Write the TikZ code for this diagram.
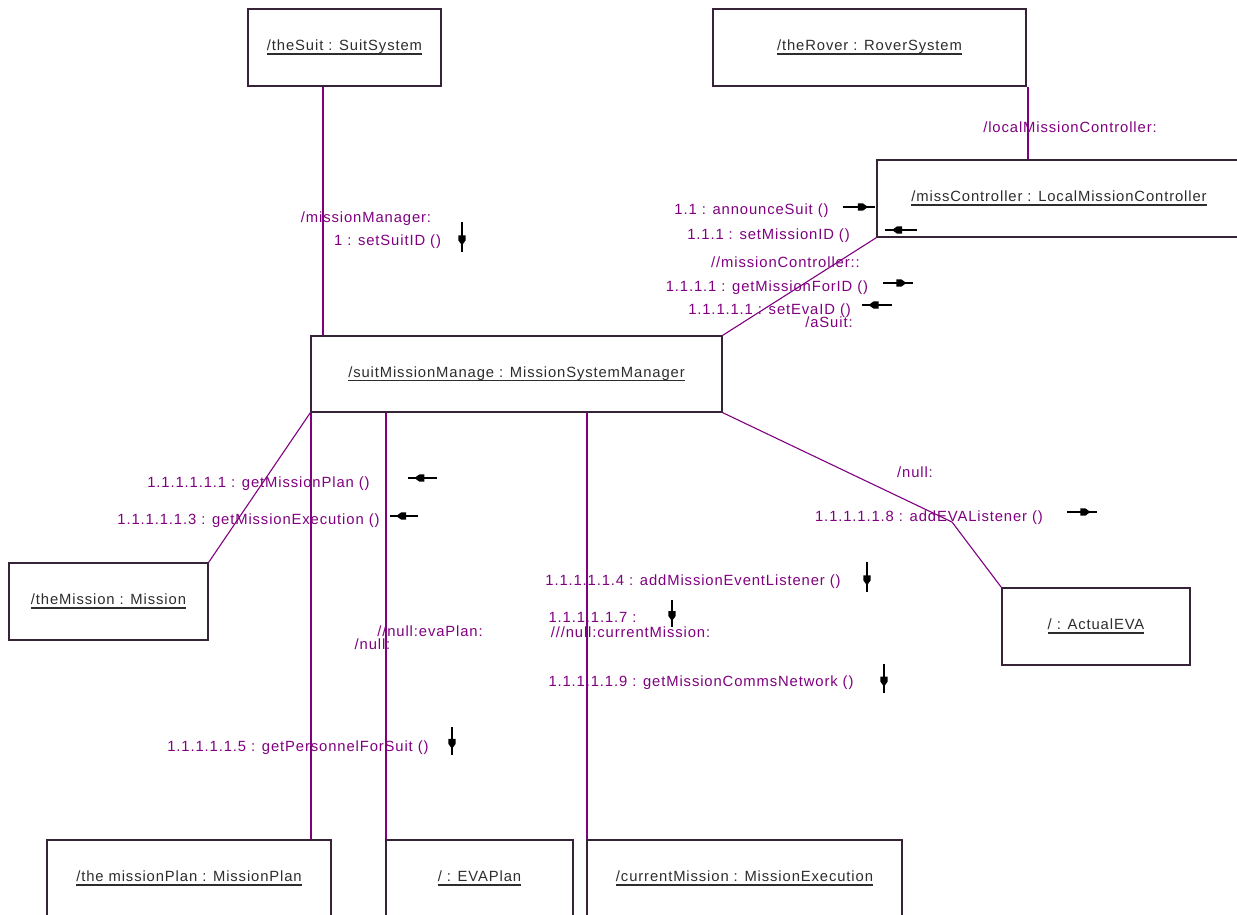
\documentclass[tikz,border=0pt]{standalone}
\usepackage{fontspec}
\setmainfont{Liberation Sans}
\newfontfamily\lblfont[LetterSpace=6]{Liberation Sans}
\usetikzlibrary{arrows.meta,decorations.markings}
\definecolor{linkpurple}{RGB}{128,0,128}
\definecolor{boxedge}{RGB}{55,35,55}
\definecolor{boxtext}{RGB}{45,45,45}
% underline drawn as a rule just below the baseline
\newcommand\ult[1]{\setbox0\hbox{#1}\rlap{\vrule width\wd0 height -2.6pt depth 4pt}\box0}
\tikzset{
  objbox/.style={draw=boxedge, line width=1.3pt, fill=white, inner sep=0pt,
    text=boxtext, font=\lblfont\fontsize{14.8}{17}\selectfont},
  link/.style={draw=linkpurple, line width=1.1pt},
  lbl/.style={text=linkpurple, inner sep=0pt, anchor=base,
    font=\lblfont\fontsize{14.8}{17}\selectfont},
  msg/.style={draw=black, line width=1.4pt, postaction=decorate,
    decoration={markings, mark=at position 0.78 with {
      \fill[black] (-10pt,-3.6pt) -- (-5pt,-3.6pt) -- (0pt,0pt) -- (-5pt,3.6pt) -- (-10pt,3.6pt) -- cycle;}}}
}
\begin{document}
\begin{tikzpicture}[x=1pt,y=-1pt]
\useasboundingbox (0,0) rectangle (1237,914);
\clip (0,0) rectangle (1237,914);
\fill[white] (0,0) rectangle (1237,914);

% anchor positions for the straight links
\coordinate (suitx) at (323,0);
\coordinate (roverx) at (1028,0);
\coordinate (planx) at (311,0);
\coordinate (evax) at (386,0);
\coordinate (execx) at (587,0);
\coordinate (bend) at (952,522);

% objects
\node[objbox, minimum width=193pt, minimum height=77pt] (suit) at (344.5,47.5) {\ult{/theSuit : SuitSystem}};
\node[objbox, minimum width=313pt, minimum height=77pt] (rover) at (869.5,47.5) {\ult{/theRover : RoverSystem}};
\node[objbox, minimum width=364pt, minimum height=77pt] (ctrl) at (1059,198.5) {\ult{/missController : LocalMissionController}};
\node[objbox, minimum width=411pt, minimum height=76pt] (mgr) at (516.5,374) {\ult{/suitMissionManage : MissionSystemManager}};
\node[objbox, minimum width=199pt, minimum height=77pt] (mission) at (108.5,601.5) {\ult{/theMission : Mission}};
\node[objbox, minimum width=188pt, minimum height=77pt] (actual) at (1096,626.5) {\ult{/ : ActualEVA}};
\node[objbox, minimum width=284pt, minimum height=77pt] (plan) at (189,878.5) {\ult{/the missionPlan : MissionPlan}};
\node[objbox, minimum width=187pt, minimum height=77pt] (evaplan) at (479.5,878.5) {\ult{/ : EVAPlan}};
\node[objbox, minimum width=315pt, minimum height=77pt] (exec) at (744.5,878.5) {\ult{/currentMission : MissionExecution}};

% links between objects
\draw[link] (suit.south -| suitx) -- (mgr.north -| suitx);
\draw[link] (rover.south -| roverx) -- (ctrl.north -| roverx);
\draw[link] (mgr.north east) -- (ctrl.south west);
\draw[link] (mgr.south west) -- (mission.north east);
\draw[link] (mgr.south -| planx) -- (plan.north -| planx);
\draw[link] (mgr.south -| evax) -- (evaplan.north -| evax);
\draw[link] (mgr.south -| execx) -- (exec.north -| execx);
\draw[link] (mgr.south east) -- (bend) -- (actual.north west);

% role and message labels
\node[lbl] (l1) at (1070,132) {/localMissionController:};
\node[lbl] (l2) at (366,222) {/missionManager:};
\node[lbl] (l3) at (387.5,245) {1 : setSuitID ()};
\node[lbl] (l4) at (751.5,214) {1.1 : announceSuit ()};
\node[lbl] (l5) at (768.5,239) {1.1.1 : setMissionID ()};
\node[lbl] (l6) at (785.5,267) {//missionController::};
\node[lbl] (l7) at (767,291) {1.1.1.1 : getMissionForID ()};
\node[lbl] (l8) at (769.5,314) {1.1.1.1.1 : setEvaID ()};
\node[lbl] (l9) at (829,327) {/aSuit:};
\node[lbl] (l10) at (258.5,487) {1.1.1.1.1.1 : getMissionPlan ()};
\node[lbl] (l11) at (248.5,524) {1.1.1.1.1.3 : getMissionExecution ()};
\node[lbl] (l12) at (915,477) {/null:};
\node[lbl] (l13) at (929,521) {1.1.1.1.1.8 : addEVAListener ()};
\node[lbl] (l14) at (693,585) {1.1.1.1.1.4 : addMissionEventListener ()};
\node[lbl] (l15) at (592.5,622) {1.1.1.1.1.7 :};
\node[lbl] (l16) at (630.5,637) {///null:currentMission:};
\node[lbl] (l17) at (701,686) {1.1.1.1.1.9 : getMissionCommsNetwork ()};
\node[lbl] (l18) at (430,636) {//null:evaPlan:};
\node[lbl] (l19) at (372.5,649) {/null:};
\node[lbl] (l20) at (298,751) {1.1.1.1.1.5 : getPersonnelForSuit ()};

% message direction arrows
\draw[msg] (462,222) -- (462,252);
\draw[msg] (843,207) -- (875,207);
\draw[msg] (917,230) -- (885,230);
\draw[msg] (883,283) -- (913,283);
\draw[msg] (892,305) -- (862,305);
\draw[msg] (437,478) -- (408,478);
\draw[msg] (418,516) -- (390,516);
\draw[msg] (1067,512) -- (1097,512);
\draw[msg] (867,562) -- (867,592);
\draw[msg] (672,600) -- (672,627);
\draw[msg] (884,664) -- (884,693);
\draw[msg] (452,727) -- (452,755);
\end{tikzpicture}
\end{document}
